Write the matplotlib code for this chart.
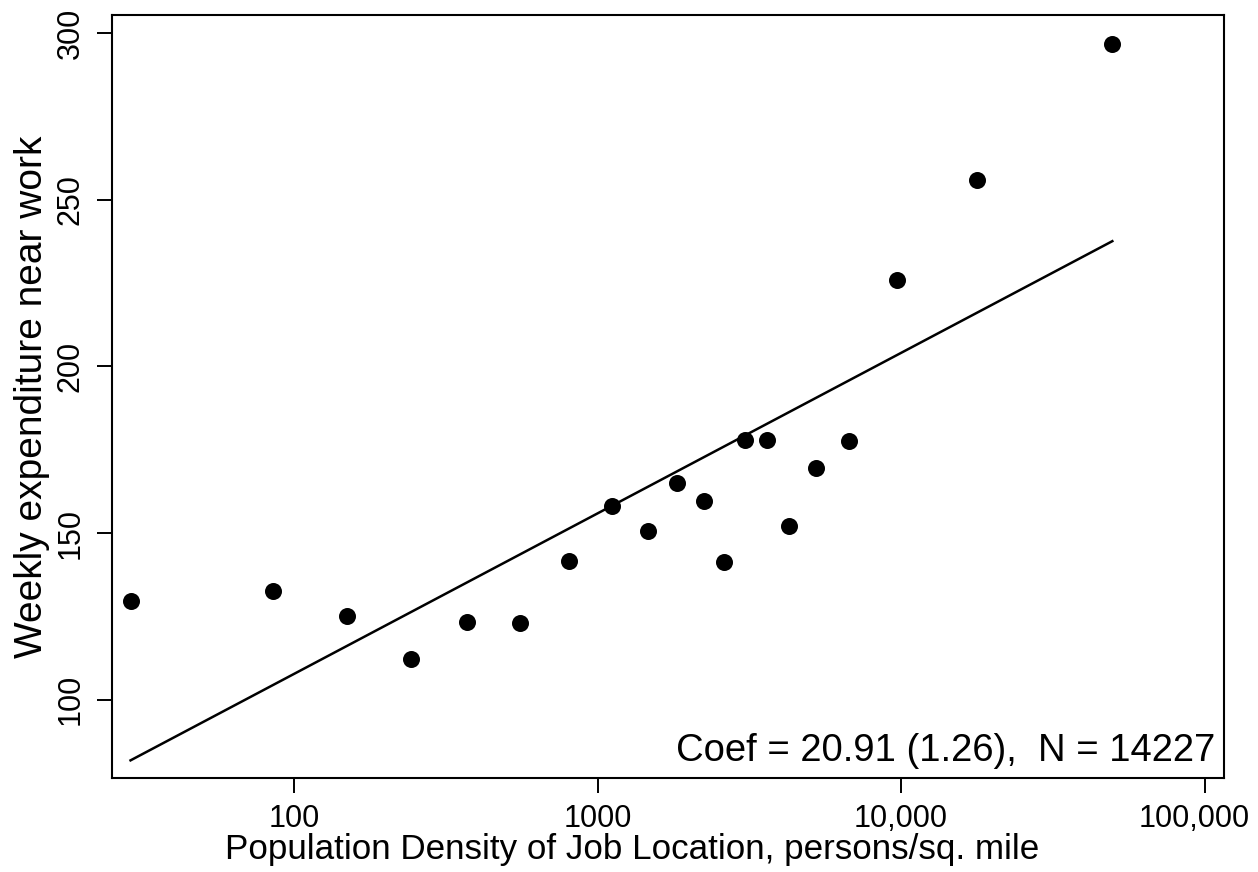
#!/usr/bin/env python3
import numpy as np
import matplotlib
matplotlib.use("Agg")
import matplotlib.pyplot as plt
from matplotlib.ticker import FixedLocator, FixedFormatter, NullLocator
from matplotlib.transforms import ScaledTranslation

# binned means: population density of job location vs weekly spending near work
density = [28.9, 84.9, 149.2, 242.5, 370.9, 554.5, 804, 1114, 1462, 1821,
           2246, 2613, 3060, 3607, 4280, 5243, 6748, 9710, 17780, 49660]
spend = [129.7, 132.5, 125.2, 112.3, 123.2, 123.0, 141.7, 158.2, 150.5, 165.1,
         159.5, 141.2, 177.8, 177.8, 152.0, 169.6, 177.7, 226.0, 256.0, 296.7]

coef = 20.91
coef_se = 1.26
intercept = 11.5
n_obs = 14227

x_ticks = [100, 1000, 10000, 100000]
x_ticklabels = ["100", "1000", "10,000", "100,000"]
y_ticks = [100, 150, 200, 250, 300]

plt.rcParams["font.family"] = ["Liberation Sans", "DejaVu Sans"]

fig = plt.figure(figsize=(12.58, 8.72), dpi=100)
ax = fig.add_axes([0.089, 0.108, 0.884, 0.875])

ax.scatter(density, spend, s=150, color="black", zorder=3, linewidths=0)

xs = np.exp(np.linspace(np.log(min(density)), np.log(max(density)), 50))
ax.plot(xs, intercept + coef * np.log(xs), color="black", lw=1.8)

ax.set_xscale("log")
ax.set_xlim(25.1, 115900)
ax.set_ylim(76.6, 305.5)

ax.xaxis.set_major_locator(FixedLocator(x_ticks))
ax.xaxis.set_major_formatter(FixedFormatter(x_ticklabels))
ax.xaxis.set_minor_locator(NullLocator())
ax.set_yticks(y_ticks)
ax.set_yticklabels([str(v) for v in y_ticks], rotation=90, va="center")

ax.tick_params(axis="both", direction="out", length=11, width=1.4,
               labelsize=22, color="black")
ax.tick_params(axis="x", pad=8)
ax.tick_params(axis="y", pad=8)
for sp in ax.spines.values():
    sp.set_linewidth(1.5)

ax.set_xlabel("Population Density of Job Location, persons/sq. mile",
              fontsize=25.2, va="baseline")
ax.xaxis.set_label_coords(0.4676, -0.106)
ax.set_ylabel("Weekly expenditure near work", fontsize=28, labelpad=4)

ax.text(0.992, 0.012, "Coef = {:.2f} ({:.2f}),  N = {}".format(coef, coef_se, n_obs),
        transform=ax.transAxes, ha="right", va="bottom", fontsize=27.5)

# keep the last tick label inside the figure edge
last = ax.get_xticklabels()[-1]
last.set_transform(last.get_transform() + ScaledTranslation(-0.1, 0, fig.dpi_scale_trans))

fig.savefig("out.png", dpi=100)
